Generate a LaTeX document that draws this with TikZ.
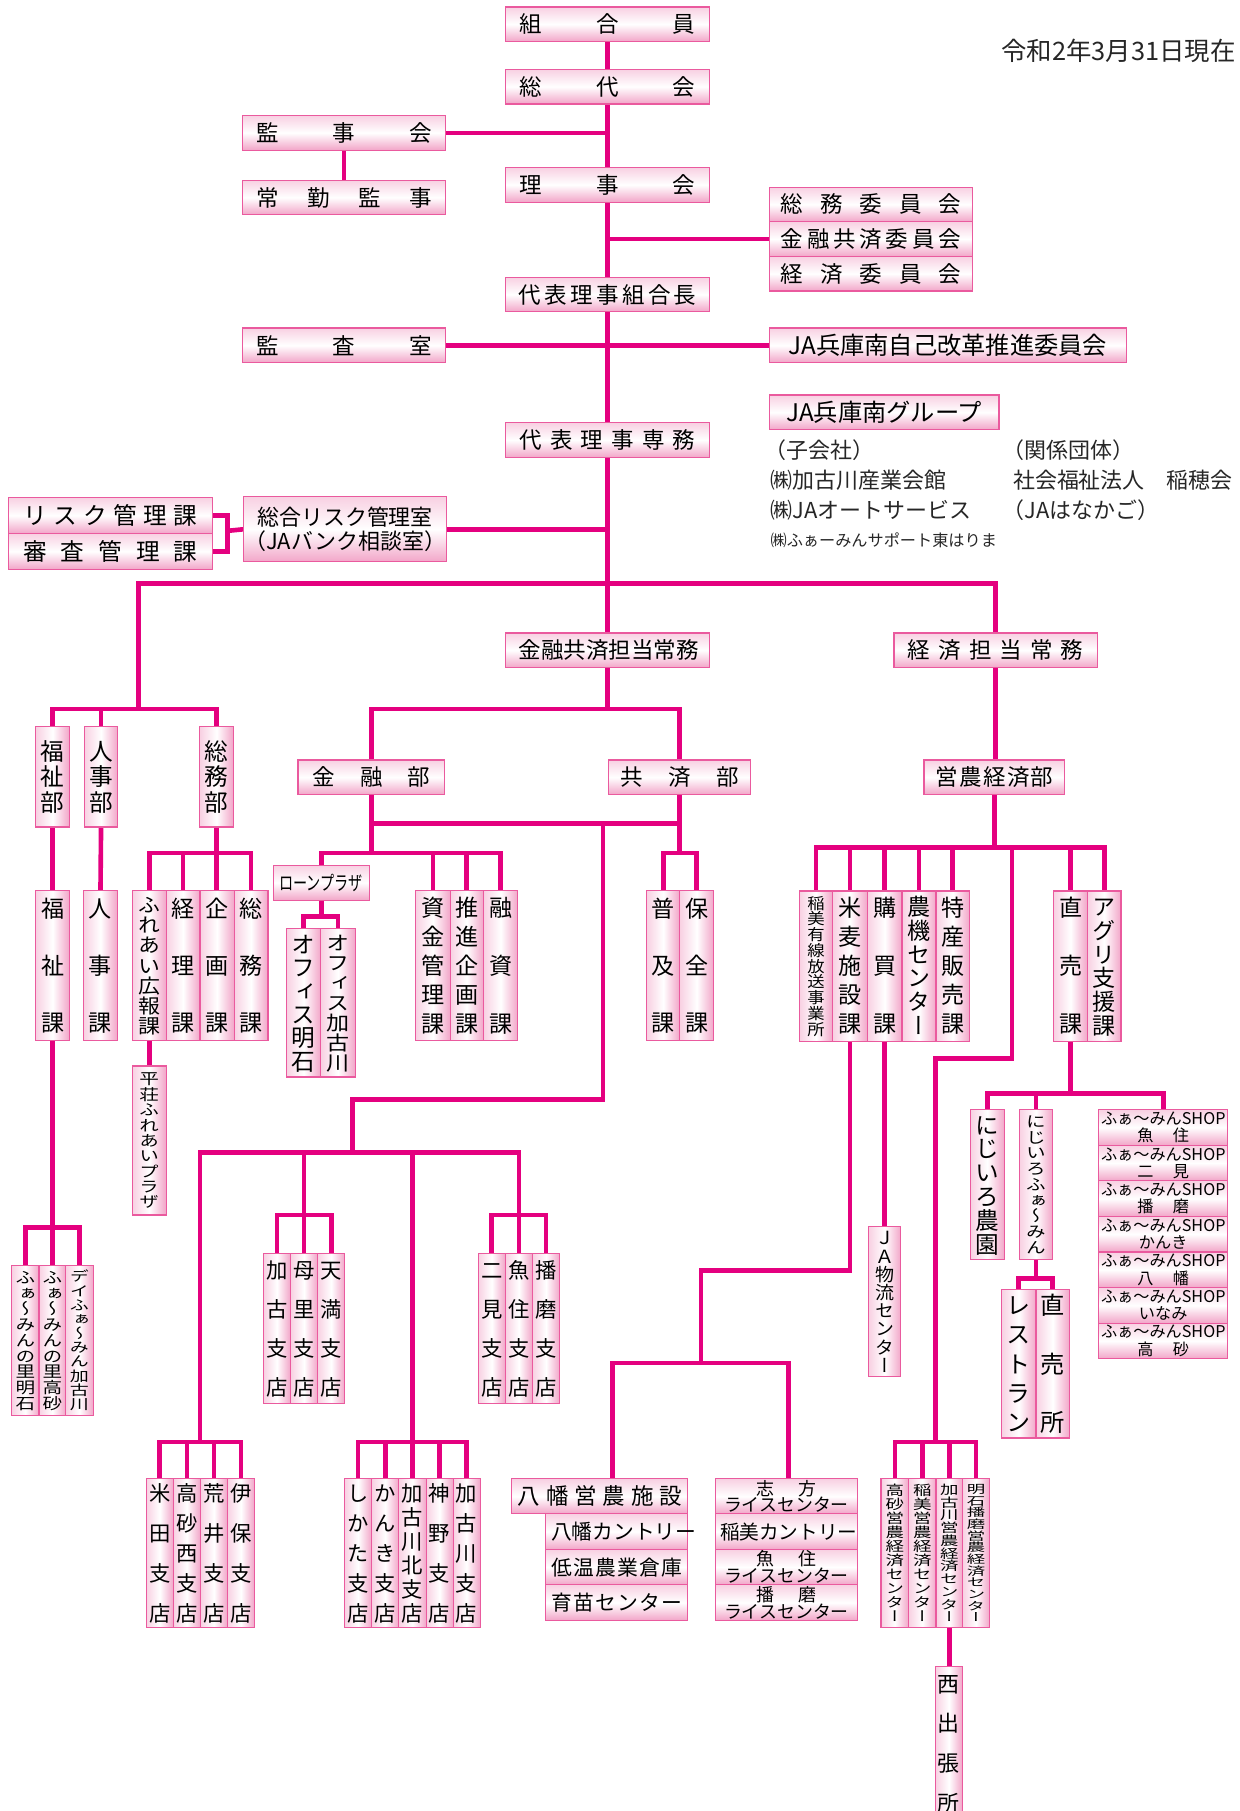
\documentclass[tikz,border=0pt]{standalone}
\usepackage{fontspec}
\usepackage{graphicx}
\setmainfont{Noto Sans CJK JP}
\newfontfamily\jp{Noto Sans CJK JP}
\newfontfamily\jpv{Noto Sans CJK JP}[RawFeature=+vert]
\definecolor{lineC}{HTML}{E4007F}
\definecolor{boxline}{HTML}{EA5A9E}
\definecolor{pkT}{HTML}{F8D0E2}
\definecolor{pkB}{HTML}{F2A5C8}
\pgfdeclarelayer{bg}
\pgfsetlayers{bg,main}
\makeatletter
\def\vt@end{\vt@end}
\newcommand\vtx[4][1]{{\fontsize{#2}{#2}\selectfont\jpv\def\vt@s{#1}%
  \vbox to #3pt{\offinterlineskip\let\vt@sep\relax\vt@loop#4\vt@end}}}
\def\vt@loop#1{\ifx#1\vt@end\else\vt@sep\hbox to 1em{\hss\scalebox{1}[\vt@s]{\vrule height .88em depth .12em width 0pt #1}\hss}\let\vt@sep\vss\expandafter\vt@loop\fi}
\newcommand\hsp[2]{\hbox to #1pt{\let\vt@sep\relax\hs@loop#2\vt@end}}
\def\hs@loop#1{\ifx#1\vt@end\else\vt@sep#1\let\vt@sep\hfill\expandafter\hs@loop\fi}
\makeatother
\tikzset{
  hb/.style={draw=boxline, line width=1pt, top color=pkT, bottom color=pkB, middle color=white,
    inner sep=0pt, outer sep=0pt, font=\jp\fontsize{19.5}{22}\selectfont},
  vb/.style={draw=boxline, line width=1pt, left color=pkT, right color=pkB, middle color=white,
    inner sep=0pt, outer sep=0pt},
  conn/.style={draw=lineC, line width=4pt, line join=miter},
  gt/.style={anchor=west, inner sep=0pt, font=\jp\fontsize{19}{22}\selectfont, text=black!85},
  shopb/.style={hb, align=center, font=\jp\fontsize{14}{15}\selectfont},
  riceb/.style={hb, align=center, font=\jp\fontsize{15.5}{14.5}\selectfont}
}
\newcommand\bx[7][]{\node[#1,minimum width={(#4-#2)*1pt},minimum height={(#5-#3)*1pt}] (#6) at ({(#2+#4)/2},{(#3+#5)/2}) {#7};}
\begin{document}
\begin{tikzpicture}[x=1pt,y=-1pt]
\useasboundingbox (0,0) rectangle (1073.6,1568);
% ---------- top ----------
\bx[hb]{438}{6}{614}{36}{kumiai}{\hsp{152}{組合員}}
\bx[hb]{438}{60}{614}{90}{sodai}{\hsp{152}{総代会}}
\bx[hb]{210}{100}{386}{130}{kanji}{\hsp{152}{監事会}}
\bx[hb]{210}{156}{386}{186}{jokin}{\hsp{152}{常勤監事}}
\bx[hb]{438}{145}{614}{175}{rijikai}{\hsp{152}{理事会}}
\bx[hb]{666}{162}{842}{192}{iinA}{\hsp{156}{総務委員会}}
\bx[hb]{666}{192}{842}{222}{iinB}{\hsp{156}{金融共済委員会}}
\bx[hb]{666}{222}{842}{252}{iinC}{\hsp{156}{経済委員会}}
\bx[hb]{438}{240}{614}{270}{kumiaicho}{\hsp{154}{代表理事組合長}}
\bx[hb]{210}{284}{386}{314}{kansa}{\hsp{152}{監査室}}
\bx[hb,font=\jp\fontsize{21}{24}\selectfont]{666}{284}{975}{314}{jiko}{JA兵庫南自己改革推進委員会}
\bx[hb,font=\jp\fontsize{21}{24}\selectfont]{666}{342}{865}{372}{group}{JA兵庫南グループ}
\bx[hb]{438}{366}{614}{396}{senmu}{\hsp{152}{代表理事専務}}
\bx[hb,align=center,font=\jp\fontsize{19}{21.6}\selectfont]{210.7}{430}{386.9}{486.5}{sogorisk}{総合リスク管理室\\（JAバンク相談室）}
\bx[hb,font=\jp\fontsize{20.5}{22}\selectfont]{7.2}{430.7}{183.9}{461.9}{riskka}{\hsp{151}{リスク管理課}}
\bx[hb,font=\jp\fontsize{20.5}{22}\selectfont]{7.2}{461.9}{183.9}{493}{shinsa}{\hsp{151}{審査管理課}}
\bx[hb]{438}{548}{614}{578}{kinyujomu}{\hsp{154}{金融共済担当常務}}
\bx[hb]{774}{548}{950}{578}{keizaijomu}{\hsp{152}{経済担当常務}}
\bx[hb]{258}{658}{385}{688}{kinyubu}{\hsp{102}{金融部}}
\bx[hb]{527}{658}{650}{688}{kyosaibu}{\hsp{102}{共済部}}
\bx[hb]{800}{658}{922}{688}{einobu}{\hsp{102}{営農経済部}}
% date and group texts
\node[anchor=east, inner sep=0pt, font=\jp\fontsize{22}{24}\selectfont, text=black!85] (date) at (1070,44) {令和2年3月31日現在};
\node[gt] (g1) at (662,389.7) {（子会社）};
\node[gt] (g2) at (667,415.7) {㈱加古川産業会館};
\node[gt] (g3) at (667,441.7) {㈱JAオートサービス};
\node[gt,font=\jp\fontsize{14}{16}\selectfont] (g4) at (667,467.7) {㈱ふぁーみんサポート東はりま};
\node[gt] (g5) at (868,389.7) {（関係団体）};
\node[gt] (g6) at (877,415.7) {社会福祉法人\hspace{1em}稲穂会};
\node[gt] (g7) at (868,441.7) {（JAはなかご）};
% ---------- left ----------
\bx[vb]{31}{629}{60}{716}{fukushibu}{\vtx{20.5}{62}{福祉部}}
\bx[vb]{73}{629}{102}{716}{jinjibu}{\vtx{20.5}{62}{人事部}}
\bx[vb]{173}{629}{202}{716}{somubu}{\vtx{20.5}{62}{総務部}}
\bx[vb]{31}{771}{60}{901}{fukushika}{\vtx{20}{116}{福祉課}}
\bx[vb]{72.5}{771}{101.5}{901}{jinjika}{\vtx{20}{116}{人事課}}
\bx[vb]{114.6}{771}{143.8}{901}{fureai}{\vtx[0.9]{19}{120}{ふれあい広報課}}
\bx[vb]{143.8}{771}{173.2}{901}{keiri}{\vtx{20}{116}{経理課}}
\bx[vb]{173.2}{771}{202.7}{901}{kikaku}{\vtx{20}{116}{企画課}}
\bx[vb]{202.7}{771}{232}{901}{somuka}{\vtx{20}{116}{総務課}}
\bx[vb]{114.6}{923}{143.8}{1052}{heiso}{\vtx[0.78]{17}{118}{平荘ふれあいプラザ}}
\bx[vb]{10.1}{1095.6}{33.8}{1225.5}{satoA}{\vtx[0.8]{17}{121}{ふぁ〜みんの里明石}}
\bx[vb]{33.8}{1095.6}{56.9}{1225.5}{satoB}{\vtx[0.8]{17}{121}{ふぁ〜みんの里高砂}}
\bx[vb]{56.9}{1095.6}{80.8}{1225.5}{satoC}{\vtx[0.73]{16.5}{121}{デイふぁ〜みん加古川}}
% ---------- center ----------
\bx[hb,font=\jp\fontsize{17}{20}\selectfont]{236.7}{749}{319.6}{779.5}{loan}{\scalebox{0.72}[1]{ローンプラザ}}
\bx[vb]{248.3}{804}{277.7}{932.5}{officeA}{\vtx{20.5}{119}{オフィス明石}}
\bx[vb]{277.7}{804}{307.5}{932.5}{officeB}{\vtx[0.86]{20}{119}{オフィス加古川}}
\bx[vb]{360}{771}{389.7}{901}{shikin}{\vtx{20}{118}{資金管理課}}
\bx[vb]{389.7}{771}{418.6}{901}{suishin}{\vtx{20}{118}{推進企画課}}
\bx[vb]{418.6}{771}{448.4}{901}{yushi}{\vtx{20}{118}{融資課}}
\bx[vb]{560}{771}{588.5}{901}{fukyu}{\vtx{20}{116}{普及課}}
\bx[vb]{588.5}{771}{618}{901}{hozen}{\vtx{20}{116}{保全課}}
\bx[vb]{228}{1085.5}{251.5}{1215.4}{kako}{\vtx{18.5}{118}{加古支店}}
\bx[vb]{251.5}{1085.5}{275}{1215.4}{hori}{\vtx{18.5}{118}{母里支店}}
\bx[vb]{275}{1085.5}{298.5}{1215.4}{tenma}{\vtx{18.5}{118}{天満支店}}
\bx[vb]{414}{1085.5}{437.5}{1215.4}{futami}{\vtx{18.5}{118}{二見支店}}
\bx[vb]{437.5}{1085.5}{461}{1215.4}{uozumi}{\vtx{18.5}{118}{魚住支店}}
\bx[vb]{461}{1085.5}{484.5}{1215.4}{harima}{\vtx{18.5}{118}{播磨支店}}
\bx[vb]{126.5}{1280.4}{150.1}{1409.4}{yoneda}{\vtx{18.5}{120}{米田支店}}
\bx[vb]{150.1}{1280.4}{173.5}{1409.4}{takanishi}{\vtx{18.5}{120}{高砂西支店}}
\bx[vb]{173.5}{1280.4}{196.9}{1409.4}{arai}{\vtx{18.5}{120}{荒井支店}}
\bx[vb]{196.9}{1280.4}{220.3}{1409.4}{ibo}{\vtx{18.5}{120}{伊保支店}}
\bx[vb]{298.2}{1280.4}{321.9}{1409.4}{shikatash}{\vtx{18.5}{120}{しかた支店}}
\bx[vb]{321.9}{1280.4}{345.3}{1409.4}{kanki}{\vtx{18.5}{120}{かんき支店}}
\bx[vb]{345.3}{1280.4}{369}{1409.4}{kitakako}{\vtx{18.5}{120}{加古川北支店}}
\bx[vb]{369}{1280.4}{392.3}{1409.4}{kanno}{\vtx{18.5}{120}{神野支店}}
\bx[vb]{392.3}{1280.4}{415.7}{1409.4}{kakosh}{\vtx{18.5}{120}{加古川支店}}
% ---------- right ----------
\bx[vb]{692}{771.4}{721}{901.6}{inamiyusen}{\vtx[0.9]{15}{121}{稲美有線放送事業所}}
\bx[vb]{721}{771.4}{751}{901.6}{beibaku}{\vtx{20}{118}{米麦施設課}}
\bx[vb]{751}{771.4}{781}{901.6}{kobai}{\vtx{20}{118}{購買課}}
\bx[vb]{781}{771.4}{810.4}{901.6}{noki}{\vtx{20}{120}{農機センター}}
\bx[vb]{810.4}{771.4}{839.5}{901.6}{tokusan}{\vtx{20}{118}{特産販売課}}
\bx[vb]{912.3}{771.4}{941.5}{901.6}{chokubai}{\vtx{20}{118}{直売課}}
\bx[vb]{941.5}{771.4}{970.6}{901.6}{agri}{\vtx{20}{120}{アグリ支援課}}
\bx[vb]{752}{1062}{780}{1192}{butsuryu}{\vtx[0.95]{16.5}{124}{ＪＡ物流センター}}
\bx[vb]{840}{960.8}{869.6}{1090.4}{nijinoen}{\vtx{20.5}{121}{にじいろ農園}}
\bx[vb]{882.6}{960.8}{911.4}{1090.4}{nijifarm}{\vtx[0.79]{17}{121}{にじいろふぁ〜みん}}
\bx[vb]{867}{1116.7}{897}{1245}{restaurant}{\vtx{21}{120}{レストラン}}
\bx[vb]{897}{1116.7}{926}{1245}{chokubaijo}{\vtx{21}{120}{直売所}}
\bx[shopb]{951.3}{960.8}{1063}{991.6}{shop1}{ふぁ〜みんSHOP\\魚\hspace{1.2em}住}
\bx[shopb]{951.3}{991.6}{1063}{1022.4}{shop2}{ふぁ〜みんSHOP\\二\hspace{1.2em}見}
\bx[shopb]{951.3}{1022.4}{1063}{1053.2}{shop3}{ふぁ〜みんSHOP\\播\hspace{1.2em}磨}
\bx[shopb]{951.3}{1053.2}{1063}{1084.0}{shop4}{ふぁ〜みんSHOP\\かんき}
\bx[shopb]{951.3}{1084.0}{1063}{1114.8}{shop5}{ふぁ〜みんSHOP\\八\hspace{1.2em}幡}
\bx[shopb]{951.3}{1114.8}{1063}{1145.6}{shop6}{ふぁ〜みんSHOP\\いなみ}
\bx[shopb]{951.3}{1145.6}{1063}{1176.4}{shop7}{ふぁ〜みんSHOP\\高\hspace{1.2em}砂}
\bx[vb]{762.8}{1280.4}{786.7}{1409.4}{takaeino}{\vtx[0.74]{16}{120}{高砂営農経済センター}}
\bx[vb]{786.7}{1280.4}{810.4}{1409.4}{inaeino}{\vtx[0.74]{16}{120}{稲美営農経済センター}}
\bx[vb]{810.4}{1280.4}{833.4}{1409.4}{kakoeino}{\vtx[0.68]{16}{120}{加古川営農経済センター}}
\bx[vb]{833.4}{1280.4}{856.8}{1409.4}{akaeino}{\vtx[0.62]{16}{120}{明石播磨営農経済センター}}
\bx[vb]{809.8}{1443}{833.4}{1576}{nishi}{\vtx{19}{120}{西出張所}}
% ---------- bottom horizontal ----------
\bx[hb]{443.2}{1280.4}{595.6}{1310.7}{yahata}{\hsp{142}{八幡営農施設}}
\bx[hb,font=\jp\fontsize{18}{20}\selectfont]{472.6}{1310.7}{595.6}{1341.6}{yahatac}{\hsp{114}{八幡カントリー}}
\bx[hb,font=\jp\fontsize{18}{20}\selectfont]{472.6}{1341.6}{595.6}{1372.1}{teion}{\hsp{114}{低温農業倉庫}}
\bx[hb,font=\jp\fontsize{18}{20}\selectfont]{472.6}{1372.1}{595.6}{1403}{ikubyo}{\hsp{114}{育苗センター}}
\bx[riceb]{619.3}{1280.4}{742.5}{1310.7}{shikatarice}{\hsp{52}{志方}\\ライスセンター}
\bx[hb,font=\jp\fontsize{17}{20}\selectfont]{619.3}{1310.7}{742.5}{1341.6}{inamic}{\hsp{115}{稲美カントリー}}
\bx[riceb]{619.3}{1341.6}{742.5}{1372.1}{uozumirice}{\hsp{52}{魚住}\\ライスセンター}
\bx[riceb]{619.3}{1372.1}{742.5}{1403}{harimarice}{\hsp{52}{播磨}\\ライスセンター}
% ---------- connectors ----------
\begin{pgfonlayer}{bg}
\draw[conn] (kumiai.south) -- (sodai.north);
\draw[conn] (sodai.south) -- (rijikai.north);
\draw[conn] (rijikai.south) -- (kumiaicho.north);
\draw[conn] (kumiaicho.south) -- (senmu.north);
\draw[conn] (senmu.south) -- (kinyujomu.north);
\draw[conn] (kanji.east) -- (kanji.east -| sodai.south);
\draw[conn] (kanji.south) -- (jokin.north);
\draw[conn] (iinB.west) -- (iinB.west -| rijikai.south);
\draw[conn] (kansa.east) -- (jiko.west);
\draw[conn] (sogorisk.east) -- (sogorisk.east -| senmu.south);
\coordinate (brk) at (197.2,459.6);
\draw[conn] (riskka.east) -| (brk) |- (shinsa.east);
\draw[conn] (brk) -- (sogorisk.west);
% main bus
\coordinate (hl) at (120,505);
\coordinate (lb) at (0,614);
\draw[conn] (hl |- lb) -- (hl) -- (keizaijomu.north |- hl) -- (keizaijomu.north);
\draw[conn] (fukushibu.north) -- (fukushibu.north |- lb) -- (somubu.north |- lb) -- (somubu.north);
\draw[conn] (jinjibu.north) -- (jinjibu.north |- lb);
\draw[conn] (fukushibu.south) -- (fukushika.north);
\draw[conn] (jinjibu.south) -- (jinjika.north);
\coordinate (sb) at (0,738.5);
\draw[conn] (fureai.north) -- (fureai.north |- sb) -- (somuka.north |- sb) -- (somuka.north);
\draw[conn] (keiri.north) -- (keiri.north |- sb);
\draw[conn] (somubu.south) -- (somubu.south |- kikaku.north);
\draw[conn] (fureai.south) -- (heiso.north);
\coordinate (fb) at (0,1063);
\draw[conn] (fukushika.south) -- (fukushika.south |- satoB.north);
\draw[conn] (satoA.north) -- (satoA.north |- fb) -- (satoC.north |- fb) -- (satoC.north);
% center
\draw[conn] (kinyujomu.south) -- (kinyujomu.south |- lb);
\draw[conn] (kinyubu.north) -- (kinyubu.north |- lb) -- (kyosaibu.north |- lb) -- (kyosaibu.north);
\coordinate (mb) at (0,713);
\draw[conn] (kinyubu.south) -- (kinyubu.south |- sb);
\draw[conn] (kinyubu.south |- mb) -- (kyosaibu.south |- mb);
\draw[conn] (kyosaibu.south) -- (kyosaibu.south |- sb);
\draw[conn] (fukyu.north) -- (fukyu.north |- sb) -- (hozen.north |- sb) -- (hozen.north);
\draw[conn] (loan.north) -- (loan.north |- sb) -- (yushi.north |- sb) -- (yushi.north);
\draw[conn] (shikin.north) -- (shikin.north |- sb);
\draw[conn] (suishin.north) -- (suishin.north |- sb);
\coordinate (ob) at (0,793.4);
\draw[conn] (loan.south) -- (loan.south |- ob);
\draw[conn] (officeA.north) -- (officeA.north |- ob) -- (officeB.north |- ob) -- (officeB.north);
\coordinate (br1) at (522,713);
\coordinate (br2) at (522,952);
\coordinate (br3) at (305,952);
\coordinate (b998) at (0,998);
\coordinate (yA) at (0,1052);
\coordinate (yC) at (0,1248.6);
\coordinate (cC) at (173,998);
\draw[conn] (br1) -- (br2) -- (br3) -- (br3 |- b998);
\draw[conn] (cC |- yC) -- (cC) -- (uozumi.north |- b998) -- (uozumi.north |- yA);
\draw[conn] (hori.north) -- (hori.north |- b998);
\draw[conn] (kitakako.north) -- (kitakako.north |- b998);
\draw[conn] (kako.north) -- (kako.north |- yA) -- (tenma.north |- yA) -- (tenma.north);
\draw[conn] (futami.north) -- (futami.north |- yA) -- (harima.north |- yA) -- (harima.north);
\draw[conn] (uozumi.north) -- (uozumi.north |- yA);
\draw[conn] (yoneda.north) -- (yoneda.north |- yC) -- (ibo.north |- yC) -- (ibo.north);
\draw[conn] (takanishi.north) -- (takanishi.north |- yC);
\draw[conn] (arai.north) -- (arai.north |- yC);
\draw[conn] (shikatash.north) -- (shikatash.north |- yC) -- (kakosh.north |- yC) -- (kakosh.north);
\draw[conn] (kanki.north) -- (kanki.north |- yC);
\draw[conn] (kanno.north) -- (kanno.north |- yC);
% right
\draw[conn] (keizaijomu.south) -- (keizaijomu.south |- einobu.north);
\coordinate (eb) at (0,734);
\draw[conn] (einobu.south) -- (einobu.south |- eb);
\draw[conn] (inamiyusen.north) -- (inamiyusen.north |- eb) -- (agri.north |- eb) -- (agri.north);
\draw[conn] (beibaku.north) -- (beibaku.north |- eb);
\draw[conn] (kobai.north) -- (kobai.north |- eb);
\draw[conn] (noki.north) -- (noki.north |- eb);
\draw[conn] (tokusan.north) -- (tokusan.north |- eb);
\draw[conn] (chokubai.north) -- (chokubai.north |- eb);
\coordinate (d1) at (876.2,734);
\coordinate (d2) at (876.2,916.6);
\coordinate (d3) at (809.8,916.6);
\draw[conn] (d1) -- (d2) -- (d3) -- (d3 |- yC);
\draw[conn] (takaeino.north) -- (takaeino.north |- yC) -- (akaeino.north |- yC) -- (akaeino.north);
\draw[conn] (inaeino.north) -- (inaeino.north |- yC);
\draw[conn] (kakoeino.north) -- (kakoeino.north |- yC);
\draw[conn] (kakoeino.south) -- (kakoeino.south |- nishi.north);
\draw[conn] (kobai.south) -- (kobai.south |- butsuryu.north);
\coordinate (m1) at (736,1100);
\coordinate (m2) at (607,1100);
\coordinate (yl) at (530.4,1180);
\coordinate (yr) at (682.8,1180);
\draw[conn] (beibaku.south) -- (beibaku.south |- m1) -- (m2) -- (m2 |- yl);
\draw[conn] (yahata.north -| yl) -- (yl) -- (yr) -- (shikatarice.north -| yr);
\coordinate (nb) at (0,947);
\draw[conn] (chokubai.south) -- (chokubai.south |- nb);
\draw[conn] (nijinoen.north) -- (nijinoen.north |- nb) -- (shop1.north |- nb) -- (shop1.north);
\draw[conn] (nijifarm.north) -- (nijifarm.north |- nb);
\coordinate (rb) at (0,1107);
\draw[conn] (nijifarm.south) -- (nijifarm.south |- rb);
\draw[conn] (restaurant.north) -- (restaurant.north |- rb) -- (chokubaijo.north |- rb) -- (chokubaijo.north);
\end{pgfonlayer}
\end{tikzpicture}
\end{document}
